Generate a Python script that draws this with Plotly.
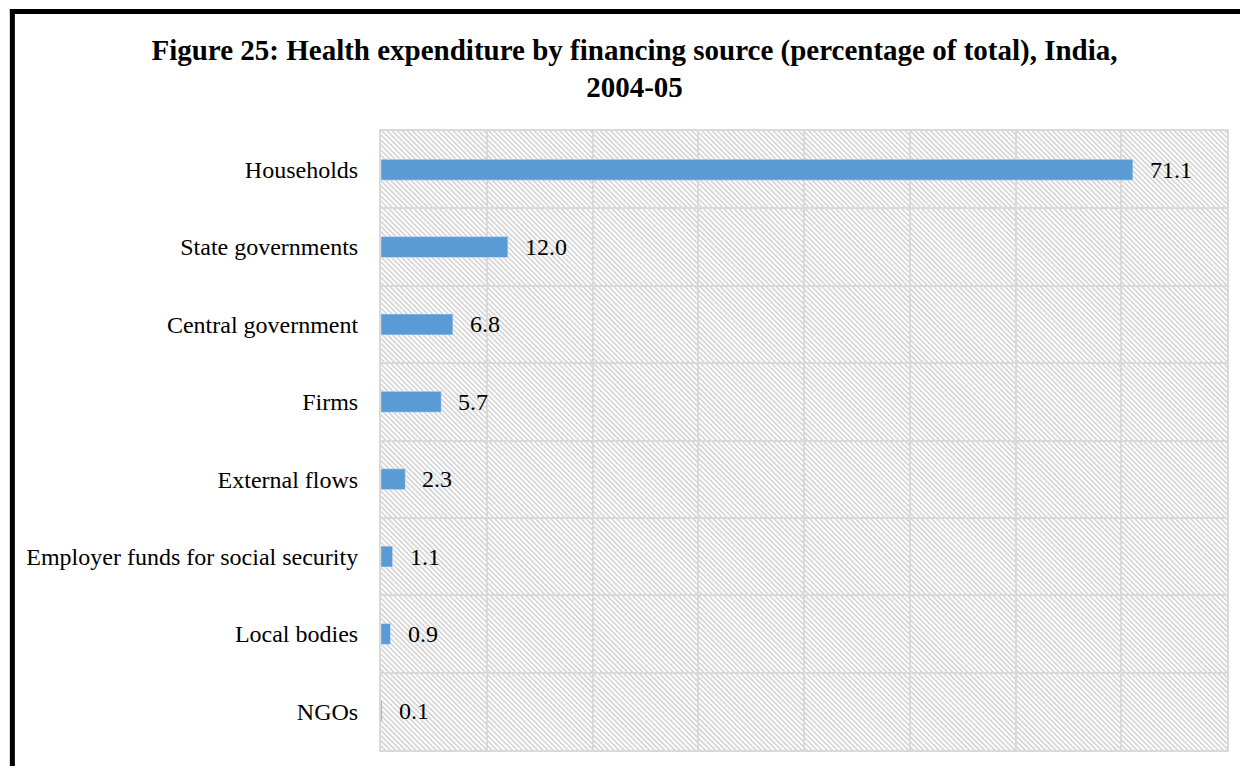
import base64
import plotly.graph_objects as go

# data
categories = ['Households', 'State governments', 'Central government', 'Firms',
              'External flows', 'Employer funds for social security',
              'Local bodies', 'NGOs']
shares = [71.1, 12.0, 6.8, 5.7, 2.3, 1.1, 0.9, 0.1]

title = ('<b>Figure 25: Health expenditure by financing source (percentage of total), India,'
         '<br>2004-05</b>')

BAR = '#5B9BD5'
GRID = '#d9d9d9'
FONT = 'Liberation Serif, Times New Roman, serif'

# the page body has an 8px margin, so the figure is shrunk to fit the window
W, H = 1232, 758
L, R, T, B = 373, 11, 123, 16


def hatch_svg():
    """diagonal hatch used by Excel's plot area"""
    svg = ("<svg xmlns='http://www.w3.org/2000/svg' width='848' height='619'>"
           "<defs><pattern id='p' width='3.6' height='3.6' patternUnits='userSpaceOnUse' "
           "patternTransform='rotate(-45)'>"
           "<line x1='0.8' y1='0' x2='0.8' y2='3.6' stroke='#d2d2d2' stroke-width='1.6'/>"
           "</pattern></defs><rect width='100%' height='100%' fill='url(#p)'/></svg>")
    return 'data:image/svg+xml;base64,' + base64.b64encode(svg.encode()).decode()


fig = go.Figure()
fig.add_trace(go.Bar(x=shares, y=categories, orientation='h',
                     marker_color=BAR, width=0.27, hoverinfo='x+y'))

for cat, val in zip(categories, shares):
    fig.add_annotation(x=val, y=cat, text=f'{val:.1f}', showarrow=False,
                       xanchor='left', xshift=15,
                       font=dict(family=FONT, size=24, color='#000'))

# frame lines (left and top) like the cropped report border
pw, ph = W - L - R, H - T - B
fx = (3.5 - L) / pw
fy = (H - 3.5 - B) / ph
fig.add_shape(type='line', xref='paper', yref='paper',
              x0=fx, x1=fx, y0=(H - 1 - B) / ph, y1=-B / ph - 0.01,
              line=dict(color='black', width=5))
fig.add_shape(type='line', xref='paper', yref='paper',
              x0=(1 - L) / pw, x1=(W + 5 - L) / pw, y0=fy, y1=fy,
              line=dict(color='black', width=5))

fig.add_layout_image(source=hatch_svg(), xref='paper', yref='paper',
                     x=0, y=1, sizex=1, sizey=1, sizing='stretch',
                     xanchor='left', yanchor='top', layer='below')

fig.update_layout(
    width=W, height=H,
    margin=dict(l=L, r=R, t=T, b=B),
    paper_bgcolor='white',
    plot_bgcolor='rgba(0,0,0,0)',
    showlegend=False,
    title=dict(text=title, x=0.5085, xanchor='center', y=0.932, yanchor='middle',
               font=dict(family=FONT, size=29, color='#000')),
    font=dict(family=FONT, size=24, color='#000'),
    xaxis=dict(range=[0, 80], dtick=10, showticklabels=False, showgrid=True,
               gridcolor=GRID, gridwidth=2, zeroline=False,
               showline=True, linecolor=GRID, linewidth=2, mirror=True),
    yaxis=dict(autorange='reversed', tickson='boundaries', showgrid=True,
               gridcolor=GRID, gridwidth=2, ticks='', ticklabelstandoff=16,
               showline=True, linecolor=GRID, linewidth=2, mirror=True,
               tickfont=dict(family=FONT, size=24, color='#000')),
)

fig.write_html('out.html')
